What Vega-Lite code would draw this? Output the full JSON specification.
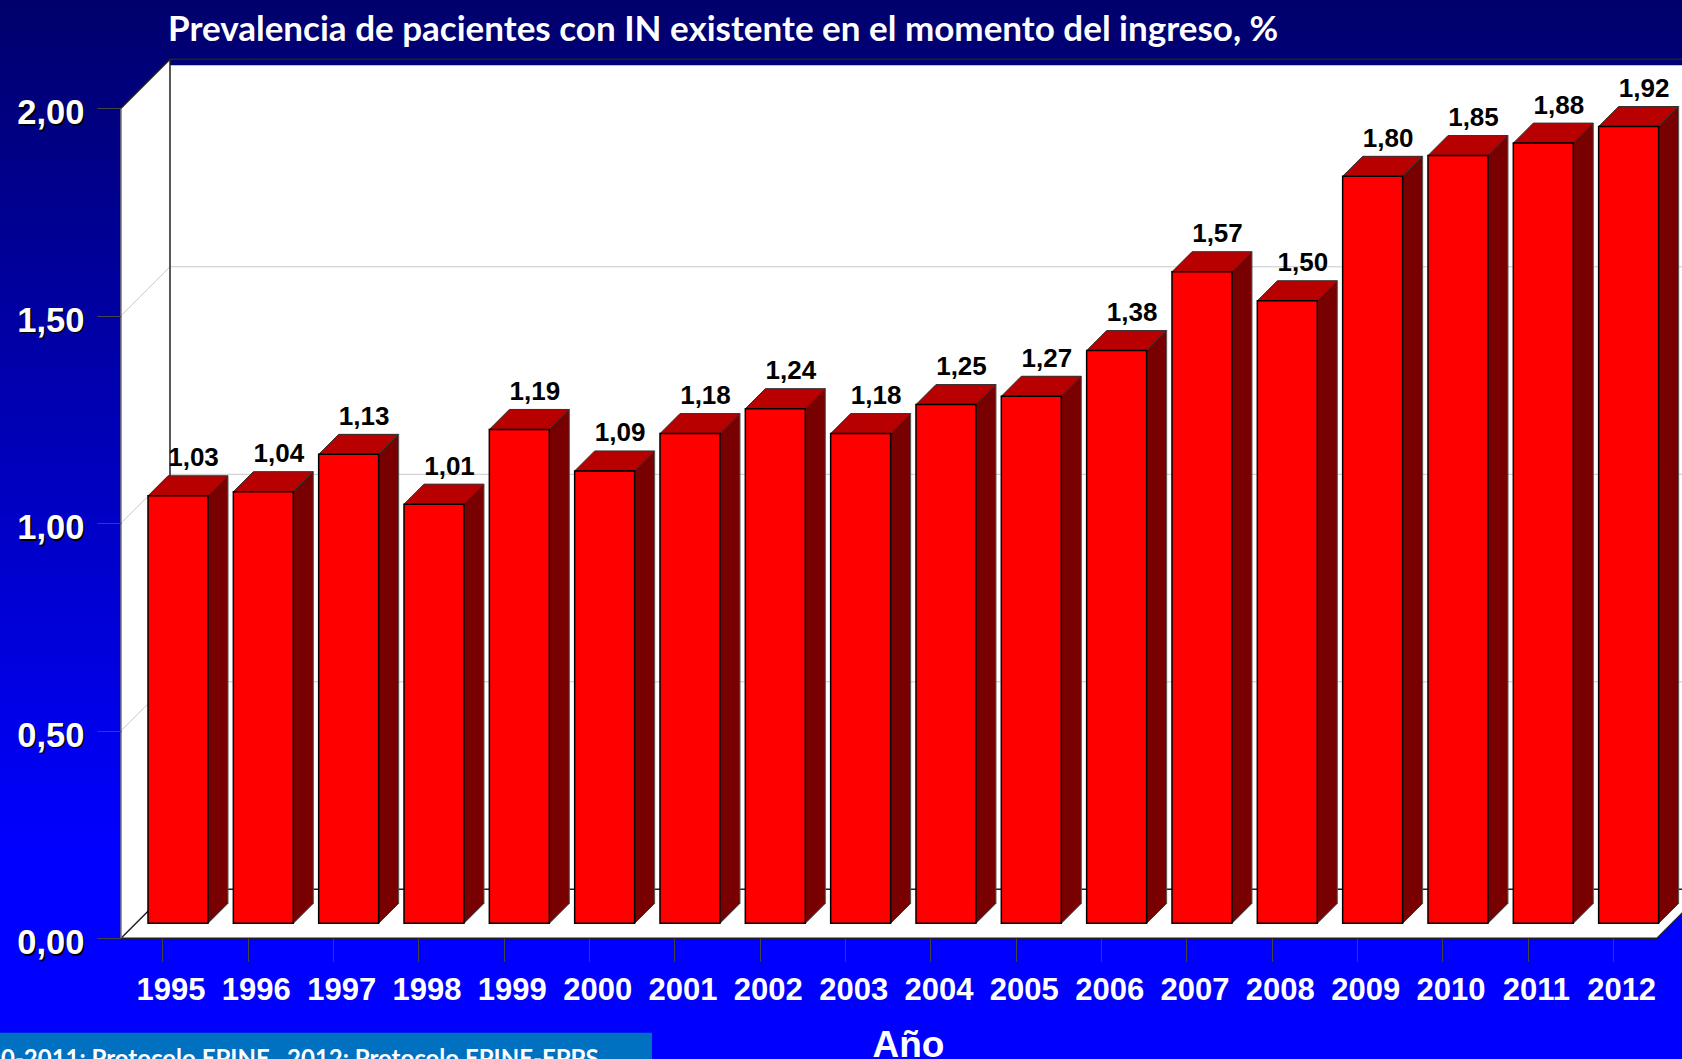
{
"$schema":"https://vega.github.io/schema/vega-lite/v6.json",
"width":1682,"height":1059,"padding":0,"autosize":{"type":"none"},
"background":"#0000ff",
"title":{"text":"Prevalencia de pacientes con IN existente en el momento del ingreso, %","anchor":"start","frame":"group","font":"Lato","fontWeight":"bold","fontSize":35,"color":"#ffffff","dx":168,"dy":76,"offset":0,"baseline":"alphabetic"},
"config":{"view":{"stroke":null,"fill":{"gradient":"linear","x1":0,"y1":0,"x2":0,"y2":1,"stops":[{"offset":0,"color":"#00006c"},{"offset":0.8,"color":"#0000ff"},{"offset":1,"color":"#0000ff"}]}},
"locale":{"number":{"decimal":",","thousands":".","grouping":[3],"currency":["","€"]}}},
"datasets":{
"bars":[{"year":1995,"value":1.03},{"year":1996,"value":1.04},{"year":1997,"value":1.13},{"year":1998,"value":1.01},{"year":1999,"value":1.19},{"year":2000,"value":1.09},{"year":2001,"value":1.18},{"year":2002,"value":1.24},{"year":2003,"value":1.18},{"year":2004,"value":1.25},{"year":2005,"value":1.27},{"year":2006,"value":1.38},{"year":2007,"value":1.57},{"year":2008,"value":1.50},{"year":2009,"value":1.80},{"year":2010,"value":1.85},{"year":2011,"value":1.88},{"year":2012,"value":1.92}],
"grid":[{"v":0.5},{"v":1},{"v":1.5}],
"edge":[{"v":0},{"v":2}],
"ticks":[{"v":0},{"v":0.5},{"v":1},{"v":1.5},{"v":2}],
"note":[{"text":"1990-2011: Protocolo EPINE , 2012: Protocolo EPINE-EPPS"}]
},
"layer":[
{"data":{"name":"note"},"mark":{"type":"point","filled":true,"opacity":1,"size":4,"fill":"#0070c0","stroke":null,"shape":"M-170,94.4 L489,94.4 L489,135 L-170,135Z"},
"encoding":{"x":{"datum":1995,"type":"ordinal"},"y":{"datum":0,"type":"quantitative"}}},
{"data":{"name":"note"},"mark":{"type":"text","font":"Lato","fontWeight":"bold","fontSize":24,"color":"#ffffff","align":"right","baseline":"alphabetic","xOffset":435.6,"yOffset":128.5},
"encoding":{"x":{"datum":1995,"type":"ordinal"},"y":{"datum":0,"type":"quantitative"},"text":{"field":"text"}}},
{"data":{"name":"note"},"mark":{"type":"point","filled":true,"opacity":1,"size":4,"fill":"#ffffff","stroke":null,"shape":"M-42,-830 L7,-879 L7,-873 L1530,-873 L1530,-36 L1494,0 L-42,0Z"},
"encoding":{"x":{"datum":1995,"type":"ordinal"},"y":{"datum":0,"type":"quantitative"}}},
{"data":{"name":"grid"},"mark":{"type":"point","filled":false,"opacity":1,"size":4,"stroke":"#c8c8c8","strokeWidth":1,"shape":"M-42,0 L7,-49 L1530,-49"},
"encoding":{"x":{"datum":1995,"type":"ordinal"},"y":{"field":"v","type":"quantitative"}}},
{"data":{"name":"edge"},"mark":{"type":"point","filled":false,"opacity":1,"size":4,"stroke":"#222222","strokeWidth":1.5,"shape":"M-42,0 L7,-49 L1530,-49"},
"encoding":{"x":{"datum":1995,"type":"ordinal"},"y":{"field":"v","type":"quantitative"}}},
{"data":{"values":[{"v":0}]},"mark":{"type":"point","filled":false,"opacity":1,"size":4,"stroke":"#222222","strokeWidth":1.5,"shape":"M7,-879 L7,-49 M-42,0 L1494,0 L1530,-36"},
"encoding":{"x":{"datum":1995,"type":"ordinal"},"y":{"field":"v","type":"quantitative"}}},
{"data":{"values":[{"v":0}]},"mark":{"type":"point","filled":false,"opacity":1,"size":4,"stroke":"#777777","strokeWidth":1.5,"shape":"M-42,0 L-42,-830"},
"encoding":{"x":{"datum":1995,"type":"ordinal"},"y":{"field":"v","type":"quantitative"}}},
{"data":{"name":"bars"},"mark":{"type":"bar","fill":"#780000","xOffset":35,"x2Offset":35,"yOffset":-35,"y2Offset":-35},
"encoding":{"x":{"field":"year","type":"ordinal"},"y":{"field":"value","type":"quantitative"},"y2":{"datum":0}}},
{"data":{"name":"bars"},"mark":{"type":"point","filled":true,"opacity":1,"size":4,"fill":"#780000","stroke":null,"shape":"M45,-15 L65,-35 L65,-37 L45,-37Z"},
"encoding":{"x":{"field":"year","type":"ordinal"},"y":{"datum":0,"type":"quantitative"}}},
{"data":{"name":"bars"},"mark":{"type":"point","filled":false,"opacity":1,"size":4,"stroke":"#333333","strokeWidth":1,"shape":"M45,-15 L65,-35"},
"encoding":{"x":{"field":"year","type":"ordinal"},"y":{"datum":0,"type":"quantitative"}}},
{"data":{"name":"bars"},"mark":{"type":"rule","stroke":"#555555","strokeWidth":1,"xOffset":65,"yOffset":-35,"y2Offset":-35},
"encoding":{"x":{"field":"year","type":"ordinal"},"y":{"field":"value","type":"quantitative"},"y2":{"datum":0}}},
{"data":{"name":"bars"},"mark":{"type":"point","filled":true,"opacity":1,"size":4,"fill":"#b80000","stroke":"#333333","strokeWidth":1,"shape":"M-15,-15 L45,-15 L65,-35 L5,-35Z"},
"encoding":{"x":{"field":"year","type":"ordinal"},"y":{"field":"value","type":"quantitative"}}},
{"data":{"name":"bars"},"mark":{"type":"bar","fill":"#ff0000","stroke":"#000000","strokeWidth":1.5,"xOffset":15,"x2Offset":15,"yOffset":-15,"y2Offset":-15},
"encoding":{"x":{"field":"year","type":"ordinal"},"y":{"field":"value","type":"quantitative"},"y2":{"datum":0}}},
{"data":{"name":"bars"},"mark":{"type":"text","font":"Liberation Sans","fontWeight":"bold","fontSize":26,"color":"#000000","align":"center","baseline":"middle","xOffset":30.5,"yOffset":-52.5},
"encoding":{"x":{"field":"year","type":"ordinal"},"y":{"field":"value","type":"quantitative"},"text":{"field":"value","format":".2f"}}},
{"data":{"name":"ticks"},"mark":{"type":"text","font":"Liberation Sans","fontWeight":"bold","fontSize":34.5,"color":"#000000","align":"right","baseline":"middle","xOffset":-77,"yOffset":7.5},
"encoding":{"x":{"datum":1995,"type":"ordinal"},"y":{"field":"v","type":"quantitative"},"text":{"field":"v","format":".2f"}}},
{"data":{"name":"bars"},"mark":{"type":"point","opacity":0,"size":1},
"encoding":{
"x":{"field":"year","type":"ordinal","scale":{"domain":[1995,1996,1997,1998,1999,2000,2001,2002,2003,2004,2005,2006,2007,2008,2009,2010,2011,2012],"range":[120.33,1656.3],"paddingInner":0.297,"paddingOuter":0.1485},
"axis":{"title":"Año","titleFont":"Liberation Sans","titleFontWeight":"bold","titleFontSize":37,"titleColor":"#ffffff","titleX":908,"titleY":118,"titleAlign":"center","titleBaseline":"alphabetic","labelAngle":0,"labelAlign":"center","labelBaseline":"top","labelFont":"Liberation Sans","labelFontWeight":"bold","labelFontSize":31,"labelColor":"#ffffff","labelOffset":8,"labelPadding":14,"labelOverlap":false,"tickSize":23,"tickColor":"#444444","tickWidth":1,"domain":false,"grid":false,"offset":-120.7,"zindex":1}},
"y":{"field":"value","type":"quantitative","scale":{"domain":[0,2],"range":[938.3,108.3],"nice":false},
"axis":{"title":null,"values":[0,0.5,1,1.5,2],"format":".2f","labelFont":"Liberation Sans","labelFontWeight":"bold","labelFontSize":34.5,"labelColor":"#ffffff","labelOffset":5.5,"labelPadding":13,"tickSize":24,"tickColor":"#444444","tickWidth":1,"domain":false,"grid":false,"offset":-121,"zindex":1}}}}
]
}
